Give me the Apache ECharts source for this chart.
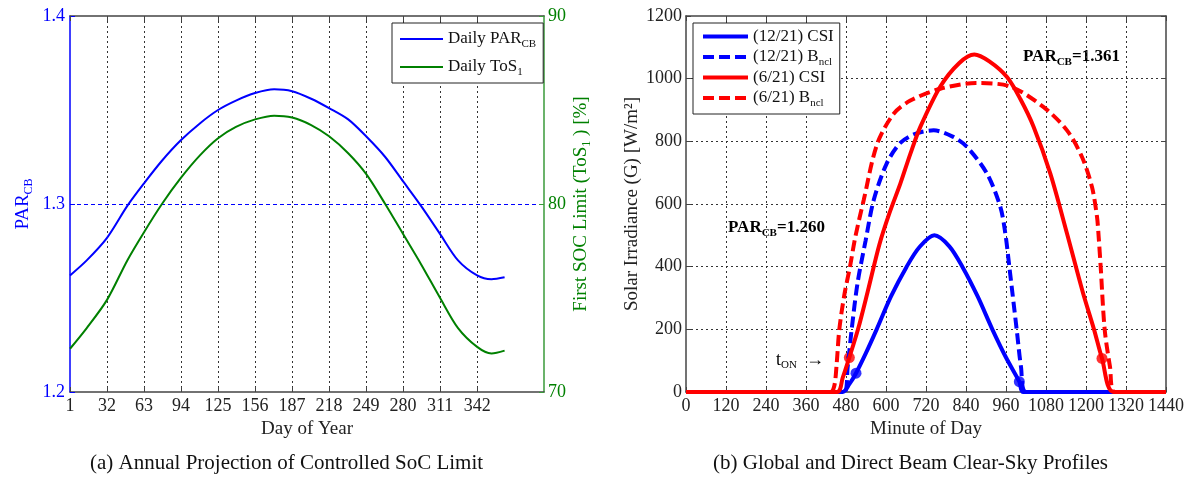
<!DOCTYPE html>
<html>
<head>
<meta charset="utf-8">
<script src="https://cdn.jsdelivr.net/npm/echarts@6/dist/echarts.min.js"></script>
<style>
  html, body { margin: 0; background: #fff; }
  #main { width: 1196px; height: 480px; }
</style>
</head>
<body>
<div id="main"></div>
<script>
const FONT = '"Liberation Serif", "Times New Roman", serif';

// (a) annual projection, day of year
const dayTickStep = 31;
const lastTickDay = 342;
const dayAxisEnd = 398;
const parDays = [1, 15, 32, 49, 63, 78, 94, 110, 125, 140, 156, 172, 187, 203, 218, 234, 249, 265, 280, 295, 311, 326, 342, 354, 365];
const parCB   = [1.262, 1.270, 1.282, 1.299, 1.311, 1.323, 1.334, 1.343, 1.350, 1.355, 1.359, 1.361, 1.360, 1.356, 1.351, 1.345, 1.336, 1.325, 1.312, 1.299, 1.284, 1.270, 1.262, 1.260, 1.261];
const tos1    = [72.3, 73.4, 74.9, 77.0, 78.5, 80.0, 81.4, 82.6, 83.5, 84.1, 84.5, 84.7, 84.6, 84.2, 83.6, 82.7, 81.6, 80.0, 78.4, 76.8, 75.0, 73.4, 72.4, 72.05, 72.2];

// (b) clear-sky profiles, minute of day
const decCsiMin  = [0, 470, 490, 510, 540, 572, 615, 662, 700, 745, 790, 829, 875, 919, 960, 1000, 1012, 1440];
const decCsi     = [0, 0, 25, 60, 125, 200, 305, 400, 462, 500, 465, 400, 305, 200, 110, 33, 0, 0];
const decBnclMin = [0, 475, 485, 497, 515, 539, 563, 602, 643, 690, 743, 800, 843, 903, 943, 958, 970, 992, 1005, 1020, 1440];
const decBncl    = [0, 0, 80, 200, 350, 484, 612, 729, 795, 825, 835, 815, 782, 697, 591, 506, 400, 200, 80, 0, 0];
const junCsiMin  = [0, 453, 470, 490, 516, 545, 580, 610, 643, 673, 703, 763, 820, 865, 910, 963, 1003, 1043, 1093, 1143, 1190, 1224, 1248, 1283, 1440];
const junCsi     = [0, 0, 45, 110, 200, 320, 470, 570, 665, 760, 846, 975, 1050, 1077, 1055, 1005, 935, 846, 697, 506, 320, 200, 107, 0, 0];
const junBnclMin = [0, 433, 445, 452, 460, 475, 492, 508, 533, 573, 623, 673, 763, 870, 973, 1073, 1143, 1188, 1218, 1233, 1238, 1244, 1256, 1272, 1286, 1440];
const junBncl    = [0, 0, 20, 90, 200, 310, 400, 495, 612, 790, 888, 930, 968, 986, 975, 909, 835, 750, 654, 559, 495, 400, 200, 80, 0, 0];
const blueDotMin = [510, 1000];
const blueDotVal = [60, 33];
const redDotMin  = [490, 1248];
const redDotVal  = [110, 107];

const days = Array.from({ length: dayAxisEnd }, (_, i) => String(i + 1));
const showDayTick = (i) => i % dayTickStep === 0 && i <= lastTickDay - 1;
const pairs = (xs, ys) => xs.map((x, i) => [x, ys[i]]);

function rich(size, color, weight) {
  return {
    n: { fontFamily: FONT, fontSize: size, lineHeight: 22, color: color, fontWeight: weight || 'normal' },
    s: { fontFamily: FONT, fontSize: Math.round(size * 0.62), lineHeight: 11, padding: [11, 0, 0, 0], color: color, fontWeight: weight || 'normal' }
  };
}

const legendText = {
  'Daily PAR_CB': '{n|Daily PAR}{s|CB}',
  'Daily ToS_1': '{n|Daily ToS}{s|1}',
  '(12/21) CSI': '{n|(12/21) CSI}',
  '(12/21) B_ncl': '{n|(12/21) B}{s|ncl}',
  '(6/21) CSI': '{n|(6/21) CSI}',
  '(6/21) B_ncl': '{n|(6/21) B}{s|ncl}'
};

const BLUE = '#0000ff', GREEN = '#008000', RED = '#ff0000', INK = '#222';
const dotted = { color: '#333', type: [2, 3], width: 1 };
const tickLabel = (color) => ({ color: color, fontFamily: FONT, fontSize: 18, margin: 5 });
const axisName = { fontFamily: FONT, fontSize: 19, color: INK };

const chart = echarts.init(document.getElementById('main'));
chart.setOption({
  animation: false,
  backgroundColor: '#fff',
  grid: [
    { left: 70, right: 652, top: 16, bottom: 88 },
    { left: 686, right: 30, top: 16, bottom: 88 }
  ],
  xAxis: [
    {
      type: 'category', gridIndex: 0, data: days, boundaryGap: false,
      axisLine: { onZero: false, lineStyle: { color: '#444', width: 1.5 } },
      axisTick: { inside: true, length: 5, interval: (i) => showDayTick(i), lineStyle: { color: '#444' } },
      axisLabel: Object.assign(tickLabel(INK), { interval: (i) => showDayTick(i) }),
      splitLine: { show: true, interval: (i) => i > 0 && showDayTick(i), lineStyle: dotted },
      name: 'Day of Year', nameLocation: 'middle', nameGap: 22, nameTextStyle: axisName
    },
    {
      type: 'category', gridIndex: 0, data: days, boundaryGap: false, position: 'top',
      axisLine: { onZero: false, lineStyle: { color: '#444', width: 1.5 } },
      axisTick: { inside: true, length: 5, interval: (i) => showDayTick(i), lineStyle: { color: '#444' } },
      axisLabel: { show: false }, splitLine: { show: false }
    },
    {
      type: 'value', gridIndex: 1, min: 0, max: 1440, interval: 120,
      axisLine: { onZero: false, lineStyle: { color: '#444', width: 1.5 } },
      axisTick: { inside: true, length: 5, lineStyle: { color: '#444' } },
      axisLabel: Object.assign(tickLabel(INK), { formatter: (v) => String(v), showMinLabel: true, showMaxLabel: true, hideOverlap: false }),
      splitLine: { show: true, showMinLine: false, showMaxLine: false, lineStyle: dotted },
      name: 'Minute of Day', nameLocation: 'middle', nameGap: 22, nameTextStyle: axisName
    },
    {
      type: 'value', gridIndex: 1, min: 0, max: 1440, interval: 120, position: 'top',
      axisLine: { onZero: false, lineStyle: { color: '#444', width: 1.5 } },
      axisTick: { inside: true, length: 5, lineStyle: { color: '#444' } },
      axisLabel: { show: false }, splitLine: { show: false }
    }
  ],
  yAxis: [
    {
      type: 'value', gridIndex: 0, min: 1.2, max: 1.4, interval: 0.1, position: 'left',
      axisLine: { show: true, onZero: false, lineStyle: { color: BLUE, width: 1.5 } },
      axisTick: { show: true, inside: true, length: 5, lineStyle: { color: BLUE } },
      axisLabel: Object.assign(tickLabel(BLUE), { formatter: (v) => v.toFixed(1) }),
      splitLine: { show: true, showMinLine: false, showMaxLine: false, lineStyle: { color: BLUE, type: [4, 3], width: 1 } },
      name: '{n|PAR}{s|CB}', nameLocation: 'middle', nameGap: 36,
      nameTextStyle: { rich: rich(19, BLUE) }
    },
    {
      type: 'value', gridIndex: 0, min: 70, max: 90, interval: 10, position: 'right',
      axisLine: { show: true, onZero: false, lineStyle: { color: '#3a9a3a', width: 1.5 } },
      axisTick: { show: true, inside: true, length: 5, lineStyle: { color: '#3a9a3a' } },
      axisLabel: Object.assign(tickLabel(GREEN), { margin: 4 }),
      splitLine: { show: false },
      name: '{n|First SOC Limit (ToS}{s|1}{n| ) [%]}', nameLocation: 'middle', nameRotate: 90, nameGap: 24,
      nameTextStyle: { rich: rich(19, GREEN) }
    },
    {
      type: 'value', gridIndex: 1, min: 0, max: 1200, interval: 200, position: 'left',
      axisLine: { show: true, onZero: false, lineStyle: { color: '#444', width: 1.5 } },
      axisTick: { show: true, inside: true, length: 5, lineStyle: { color: '#444' } },
      axisLabel: Object.assign(tickLabel(INK), { margin: 4, formatter: (v) => String(v) }),
      splitLine: { show: true, showMinLine: false, showMaxLine: false, lineStyle: dotted },
      name: 'Solar Irradiance (G) [W/m²]', nameLocation: 'middle', nameGap: 44, nameTextStyle: axisName
    },
    {
      type: 'value', gridIndex: 1, min: 0, max: 1200, interval: 200, position: 'right',
      axisLine: { show: true, onZero: false, lineStyle: { color: '#444', width: 1.5 } },
      axisTick: { show: true, inside: true, length: 5, lineStyle: { color: '#444' } },
      axisLabel: { show: false }, splitLine: { show: false }
    }
  ],
  legend: [
    {
      data: ['Daily PAR_CB', 'Daily ToS_1'], orient: 'vertical', left: 392, top: 23,
      padding: [5, 7, 5, 7], itemGap: 6, itemWidth: 43, itemHeight: 14,
      backgroundColor: '#fff', borderColor: '#222', borderWidth: 1, selectedMode: false,
      lineStyle: { width: 'inherit' }, itemStyle: { opacity: 0 },
      formatter: (name) => legendText[name], textStyle: { rich: rich(17, '#111') }
    },
    {
      data: ['(12/21) CSI', '(12/21) B_ncl', '(6/21) CSI', '(6/21) B_ncl'], orient: 'vertical', left: 693, top: 23,
      padding: [5, 6, 5, 8], itemGap: 1, itemWidth: 45, itemHeight: 14,
      backgroundColor: '#fff', borderColor: '#222', borderWidth: 1, selectedMode: false,
      lineStyle: { width: 'inherit' }, itemStyle: { opacity: 0 },
      formatter: (name) => legendText[name], textStyle: { rich: rich(17, '#111') }
    }
  ],
  series: [
    {
      name: 'Daily PAR_CB', type: 'line', xAxisIndex: 0, yAxisIndex: 0, symbol: 'none', smooth: 0.3,
      lineStyle: { color: BLUE, width: 2 }, itemStyle: { color: BLUE },
      data: pairs(parDays.map((d) => d - 1), parCB)
    },
    {
      name: 'Daily ToS_1', type: 'line', xAxisIndex: 0, yAxisIndex: 1, symbol: 'none', smooth: 0.3,
      lineStyle: { color: GREEN, width: 2 }, itemStyle: { color: GREEN },
      data: pairs(parDays.map((d) => d - 1), tos1)
    },
    {
      name: '(12/21) CSI', type: 'line', xAxisIndex: 2, yAxisIndex: 2, symbol: 'none', smooth: 0.3,
      lineStyle: { color: BLUE, width: 4 }, itemStyle: { color: BLUE },
      data: pairs(decCsiMin, decCsi)
    },
    {
      name: '(12/21) B_ncl', type: 'line', xAxisIndex: 2, yAxisIndex: 2, symbol: 'none', smooth: 0.3,
      lineStyle: { color: BLUE, width: 4, type: [11, 5] }, itemStyle: { color: BLUE },
      data: pairs(decBnclMin, decBncl)
    },
    {
      name: '(6/21) CSI', type: 'line', xAxisIndex: 2, yAxisIndex: 2, symbol: 'none', smooth: 0.3,
      lineStyle: { color: RED, width: 4 }, itemStyle: { color: RED },
      data: pairs(junCsiMin, junCsi)
    },
    {
      name: '(6/21) B_ncl', type: 'line', xAxisIndex: 2, yAxisIndex: 2, symbol: 'none', smooth: 0.3,
      lineStyle: { color: RED, width: 4, type: [11, 5] }, itemStyle: { color: RED },
      data: pairs(junBnclMin, junBncl)
    },
    {
      name: 'blue dots', type: 'scatter', xAxisIndex: 2, yAxisIndex: 2, symbolSize: 11,
      itemStyle: { color: BLUE }, data: pairs(blueDotMin, blueDotVal)
    },
    {
      name: 'red dots', type: 'scatter', xAxisIndex: 2, yAxisIndex: 2, symbolSize: 11,
      itemStyle: { color: RED }, data: pairs(redDotMin, redDotVal)
    }
  ],
  graphic: [
    {
      type: 'text', left: 728, top: 217, silent: true,
      style: { text: '{n|PAR}{s|CB}{n|=1.260}', rich: rich(17, BLUE, 'bold') }
    },
    {
      type: 'text', left: 1023, top: 46, silent: true,
      style: { text: '{n|PAR}{s|CB}{n|=1.361}', rich: rich(17, RED, 'bold') }
    },
    {
      type: 'text', left: 776, top: 349, silent: true,
      style: { text: '{n|t}{s|ON}{n|  →}', rich: rich(18, RED) }
    },
    {
      type: 'text', left: 90, top: 453, silent: true,
      style: { text: '(a) Annual Projection of Controlled SoC Limit', fontFamily: FONT, fontSize: 21, fill: '#111' }
    },
    {
      type: 'text', left: 713, top: 453, silent: true,
      style: { text: '(b) Global and Direct Beam Clear-Sky Profiles', fontFamily: FONT, fontSize: 21, fill: '#111' }
    }
  ]
});
</script>
</body>
</html>
